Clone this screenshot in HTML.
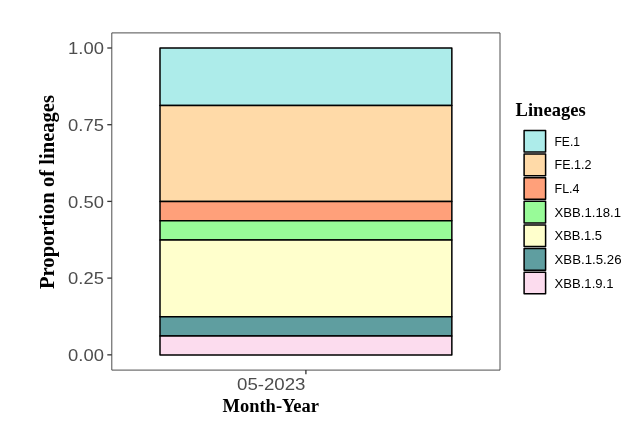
<!DOCTYPE html>
<html><head><meta charset="utf-8">
<style>
html,body{margin:0;padding:0;background:#fff;}
body{width:636px;height:425px;overflow:hidden;}
svg{display:block;}
text{filter:grayscale(1);}
.t{font-family:"Liberation Sans",sans-serif;}
.s{font-family:"Liberation Serif",serif;font-weight:bold;}
</style></head><body>
<svg width="636" height="425" viewBox="0 0 636 425">
<rect x="0" y="0" width="636" height="425" fill="#ffffff"/>
<!-- bars -->
<g stroke="#000" stroke-width="1.5" stroke-linejoin="round">
<rect x="160" y="48" width="291.85" height="57.5" fill="#ADECEA"/>
<rect x="160" y="105.5" width="291.85" height="95.9" fill="#FFDAA8"/>
<rect x="160" y="201.4" width="291.85" height="19.3" fill="#FFA07A"/>
<rect x="160" y="220.7" width="291.85" height="19.3" fill="#98FB98"/>
<rect x="160" y="240" width="291.85" height="76.8" fill="#FFFFCC"/>
<rect x="160" y="316.8" width="291.85" height="19.2" fill="#5F9EA0"/>
<rect x="160" y="336" width="291.85" height="19" fill="#FCDCEE"/>
</g>
<!-- panel border -->
<rect x="111.8" y="32.9" width="388.2" height="337.2" fill="none" stroke="#3a3a3a" stroke-width="0.9" stroke-linejoin="round"/>
<!-- ticks -->
<g stroke="#333" stroke-width="1.3">
<line x1="107.3" x2="111.8" y1="48" y2="48"/>
<line x1="107.3" x2="111.8" y1="124.7" y2="124.7"/>
<line x1="107.3" x2="111.8" y1="201.4" y2="201.4"/>
<line x1="107.3" x2="111.8" y1="278.1" y2="278.1"/>
<line x1="107.3" x2="111.8" y1="354.85" y2="354.85"/>
<line x1="305.9" x2="305.9" y1="370.1" y2="374.2"/>
</g>
<!-- y tick labels -->
<g class="t" font-size="17.2" fill="#4D4D4D" text-anchor="end">
<text x="103.9" y="54.2" textLength="35.8" lengthAdjust="spacingAndGlyphs">1.00</text>
<text x="103.9" y="130.9" textLength="35.8" lengthAdjust="spacingAndGlyphs">0.75</text>
<text x="103.9" y="207.6" textLength="35.8" lengthAdjust="spacingAndGlyphs">0.50</text>
<text x="103.9" y="284.3" textLength="35.8" lengthAdjust="spacingAndGlyphs">0.25</text>
<text x="103.9" y="361" textLength="35.8" lengthAdjust="spacingAndGlyphs">0.00</text>
</g>
<!-- x tick label -->
<text class="t" font-size="17.2" fill="#4D4D4D" text-anchor="end" x="305.5" y="390" textLength="68.5" lengthAdjust="spacingAndGlyphs">05-2023</text>
<!-- axis titles -->
<text class="s" font-size="18.2" fill="#000" x="222.5" y="411.6" textLength="96.5" lengthAdjust="spacingAndGlyphs">Month-Year</text>
<text class="s" font-size="20.6" fill="#000" transform="translate(53.9,289) rotate(-90)" textLength="194" lengthAdjust="spacingAndGlyphs">Proportion of lineages</text>
<!-- legend -->
<text class="s" font-size="19" fill="#000" x="515.6" y="115.8" textLength="70" lengthAdjust="spacingAndGlyphs">Lineages</text>
<g stroke="#000" stroke-width="1.5" stroke-linejoin="round">
<rect x="524.1" y="130.4" width="21.5" height="21.6" fill="#ADECEA"/>
<rect x="524.1" y="154.05" width="21.5" height="21.6" fill="#FFDAA8"/>
<rect x="524.1" y="177.7" width="21.5" height="21.6" fill="#FFA07A"/>
<rect x="524.1" y="201.35" width="21.5" height="21.6" fill="#98FB98"/>
<rect x="524.1" y="225.0" width="21.5" height="21.6" fill="#FFFFCC"/>
<rect x="524.1" y="248.6" width="21.5" height="21.6" fill="#5F9EA0"/>
<rect x="524.1" y="272.2" width="21.5" height="21.6" fill="#FCDCEE"/>
</g>
<g class="t" font-size="12.4" fill="#000">
<text x="554.5" y="145.7" textLength="25.5" lengthAdjust="spacingAndGlyphs">FE.1</text>
<text x="554.5" y="169.3" textLength="37" lengthAdjust="spacingAndGlyphs">FE.1.2</text>
<text x="554.5" y="193" textLength="25" lengthAdjust="spacingAndGlyphs">FL.4</text>
<text x="554.5" y="216.6" textLength="66.5" lengthAdjust="spacingAndGlyphs">XBB.1.18.1</text>
<text x="554.5" y="240.2" textLength="47.5" lengthAdjust="spacingAndGlyphs">XBB.1.5</text>
<text x="554.5" y="263.9" textLength="67" lengthAdjust="spacingAndGlyphs">XBB.1.5.26</text>
<text x="554.5" y="287.5" textLength="59" lengthAdjust="spacingAndGlyphs">XBB.1.9.1</text>
</g>
</svg>
</body></html>
